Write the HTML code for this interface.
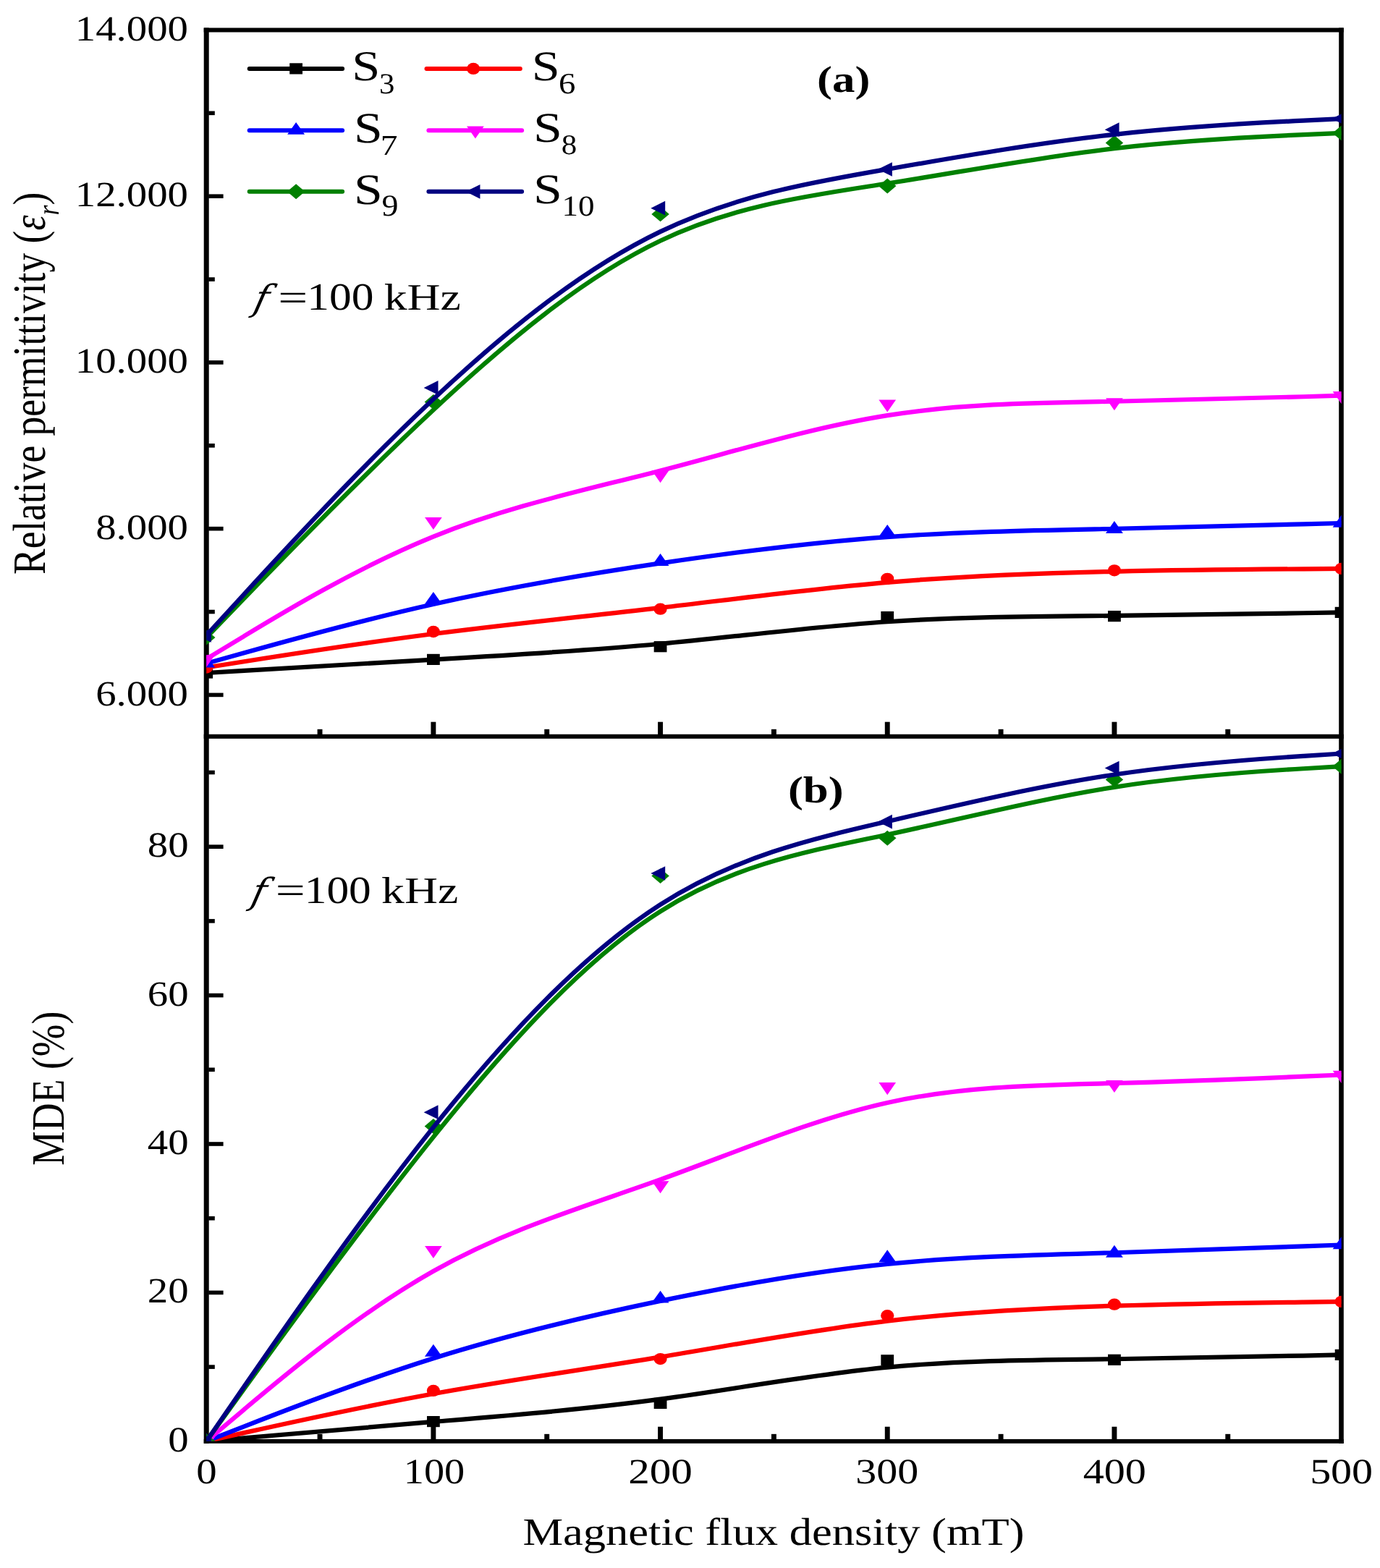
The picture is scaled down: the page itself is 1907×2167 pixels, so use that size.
<!DOCTYPE html><html><head><meta charset="utf-8"><title>Relative permittivity and MDE vs magnetic flux density</title><style>html,body{margin:0;padding:0;background:#fff;overflow:hidden;}svg{display:block;}text{font-kerning:none;text-rendering:geometricPrecision;}</style></head><body><svg width="1907" height="2167" viewBox="0 0 1907 2167" font-family="'Liberation Serif', 'Times New Roman', serif">
<rect width="1907" height="2167" fill="#fff"/>
<g fill="#000"><rect x="281.7" y="38.5" width="7.00" height="1956.30"/><rect x="1850.2" y="38.5" width="6.60" height="1956.30"/><rect x="281.7" y="38.5" width="1575.10" height="6.00"/><rect x="281.7" y="1014.8" width="1575.10" height="6.00"/><rect x="281.7" y="1988.9" width="1575.10" height="5.90"/><rect x="288.20" y="957.60" width="20.40" height="5.6"/><rect x="288.20" y="842.73" width="8.60" height="5.6"/><rect x="288.20" y="727.86" width="20.40" height="5.6"/><rect x="288.20" y="612.99" width="8.60" height="5.6"/><rect x="288.20" y="498.12" width="20.40" height="5.6"/><rect x="288.20" y="383.26" width="8.60" height="5.6"/><rect x="288.20" y="268.39" width="20.40" height="5.6"/><rect x="288.20" y="153.52" width="8.60" height="5.6"/><rect x="288.20" y="1886.30" width="8.60" height="5.6"/><rect x="288.20" y="1783.60" width="20.40" height="5.6"/><rect x="288.20" y="1680.90" width="8.60" height="5.6"/><rect x="288.20" y="1578.20" width="20.40" height="5.6"/><rect x="288.20" y="1475.50" width="8.60" height="5.6"/><rect x="288.20" y="1372.80" width="20.40" height="5.6"/><rect x="288.20" y="1270.10" width="8.60" height="5.6"/><rect x="288.20" y="1167.40" width="20.40" height="5.6"/><rect x="288.20" y="1064.70" width="8.60" height="5.6"/><rect x="438.59" y="1007.80" width="6.9" height="7.50"/><rect x="438.59" y="1981.85" width="6.9" height="7.50"/><rect x="595.43" y="997.70" width="6.9" height="17.60"/><rect x="595.43" y="1971.75" width="6.9" height="17.60"/><rect x="752.27" y="1007.80" width="6.9" height="7.50"/><rect x="752.27" y="1981.85" width="6.9" height="7.50"/><rect x="909.11" y="997.70" width="6.9" height="17.60"/><rect x="909.11" y="1971.75" width="6.9" height="17.60"/><rect x="1065.95" y="1007.80" width="6.9" height="7.50"/><rect x="1065.95" y="1981.85" width="6.9" height="7.50"/><rect x="1222.79" y="997.70" width="6.9" height="17.60"/><rect x="1222.79" y="1971.75" width="6.9" height="17.60"/><rect x="1379.63" y="1007.80" width="6.9" height="7.50"/><rect x="1379.63" y="1981.85" width="6.9" height="7.50"/><rect x="1536.47" y="997.70" width="6.9" height="17.60"/><rect x="1536.47" y="1971.75" width="6.9" height="17.60"/><rect x="1693.31" y="1007.80" width="6.9" height="7.50"/><rect x="1693.31" y="1981.85" width="6.9" height="7.50"/></g>
<defs><clipPath id="ca"><rect x="285.2" y="41.45" width="1568.4" height="976.35"/></clipPath><clipPath id="cb"><rect x="285.2" y="1017.8" width="1568.4" height="974.05"/></clipPath></defs>
<g clip-path="url(#ca)" stroke-linejoin="round"><path d="M285.20,930.00C285.20,930.00 285.20,930.00 337.48,926.90C389.76,923.80 494.32,917.60 598.88,911.55C703.44,905.50 808.00,899.60 912.56,889.78C1017.12,879.97 1121.68,866.23 1226.24,859.22C1330.80,852.20 1435.36,851.90 1539.92,850.88C1644.48,849.87 1749.04,848.13 1801.32,847.27C1853.60,846.40 1853.60,846.40 1853.60,846.40" fill="none" stroke="#000000" stroke-width="6.2"/><rect x="276.30" y="922.40" width="17.8" height="15.2" fill="#000000"/><rect x="589.98" y="903.80" width="17.8" height="15.2" fill="#000000"/><rect x="903.66" y="886.10" width="17.8" height="15.2" fill="#000000"/><rect x="1217.34" y="844.90" width="17.8" height="15.2" fill="#000000"/><rect x="1531.02" y="844.00" width="17.8" height="15.2" fill="#000000"/><rect x="1844.70" y="838.80" width="17.8" height="15.2" fill="#000000"/><path d="M285.20,922.50C285.20,922.50 285.20,922.50 337.48,914.25C389.76,906.00 494.32,889.50 598.88,876.03C703.44,862.57 808.00,852.13 912.56,839.93C1017.12,827.73 1121.68,813.77 1226.24,804.87C1330.80,795.97 1435.36,792.13 1539.92,789.82C1644.48,787.50 1749.04,786.70 1801.32,786.30C1853.60,785.90 1853.60,785.90 1853.60,785.90" fill="none" stroke="#FF0000" stroke-width="6.2"/><ellipse cx="285.20" cy="922.50" rx="9.1" ry="8.15" fill="#FF0000"/><ellipse cx="598.88" cy="873.00" rx="9.1" ry="8.15" fill="#FF0000"/><ellipse cx="912.56" cy="841.70" rx="9.1" ry="8.15" fill="#FF0000"/><ellipse cx="1226.24" cy="799.80" rx="9.1" ry="8.15" fill="#FF0000"/><ellipse cx="1539.92" cy="788.30" rx="9.1" ry="8.15" fill="#FF0000"/><ellipse cx="1853.60" cy="785.90" rx="9.1" ry="8.15" fill="#FF0000"/><path d="M285.20,916.80C285.20,916.80 285.20,916.80 337.48,902.20C389.76,887.60 494.32,858.40 598.88,834.98C703.44,811.57 808.00,793.93 912.56,778.43C1017.12,762.93 1121.68,749.57 1226.24,742.07C1330.80,734.57 1435.36,732.93 1539.92,730.73C1644.48,728.53 1749.04,725.77 1801.32,724.38C1853.60,723.00 1853.60,723.00 1853.60,723.00" fill="none" stroke="#0000FF" stroke-width="6.2"/><path d="M285.20,905.53L297.15,922.43L273.25,922.43Z" fill="#0000FF"/><path d="M598.88,817.93L610.83,834.83L586.93,834.83Z" fill="#0000FF"/><path d="M912.56,765.03L924.51,781.93L900.61,781.93Z" fill="#0000FF"/><path d="M1226.24,724.93L1238.19,741.83L1214.29,741.83Z" fill="#0000FF"/><path d="M1539.92,720.03L1551.87,736.93L1527.97,736.93Z" fill="#0000FF"/><path d="M1853.60,711.73L1865.55,728.63L1841.65,728.63Z" fill="#0000FF"/><path d="M285.20,910.70C285.20,910.70 285.20,910.70 337.48,879.03C389.76,847.37 494.32,784.03 598.88,741.57C703.44,699.10 808.00,677.50 912.56,650.42C1017.12,623.33 1121.68,590.77 1226.24,574.10C1330.80,557.43 1435.36,556.67 1539.92,554.75C1644.48,552.83 1749.04,549.77 1801.32,548.23C1853.60,546.70 1853.60,546.70 1853.60,546.70" fill="none" stroke="#FF00FF" stroke-width="6.2"/><path d="M285.20,922.10L297.05,905.00L273.35,905.00Z" fill="#FF00FF"/><path d="M598.88,732.10L610.73,715.00L587.03,715.00Z" fill="#FF00FF"/><path d="M912.56,667.30L924.41,650.20L900.71,650.20Z" fill="#FF00FF"/><path d="M1226.24,569.60L1238.09,552.50L1214.39,552.50Z" fill="#FF00FF"/><path d="M1539.92,567.30L1551.77,550.20L1528.07,550.20Z" fill="#FF00FF"/><path d="M1853.60,558.10L1865.45,541.00L1841.75,541.00Z" fill="#FF00FF"/><path d="M285.20,881.10C285.20,881.10 285.20,881.10 337.48,826.83C389.76,772.57 494.32,664.03 598.88,566.50C703.44,468.97 808.00,382.43 912.56,332.68C1017.12,282.93 1121.68,269.97 1226.24,253.55C1330.80,237.13 1435.36,217.27 1539.92,205.08C1644.48,192.90 1749.04,188.40 1801.32,186.15C1853.60,183.90 1853.60,183.90 1853.60,183.90" fill="none" stroke="#008000" stroke-width="6.2"/><path d="M285.20,870.65L297.45,881.10L285.20,891.55L272.95,881.10Z" fill="#008000"/><path d="M598.88,545.05L611.13,555.50L598.88,565.95L586.63,555.50Z" fill="#008000"/><path d="M912.56,285.45L924.81,295.90L912.56,306.35L900.31,295.90Z" fill="#008000"/><path d="M1226.24,246.55L1238.49,257.00L1226.24,267.45L1213.99,257.00Z" fill="#008000"/><path d="M1539.92,186.95L1552.17,197.40L1539.92,207.85L1527.67,197.40Z" fill="#008000"/><path d="M1853.60,173.45L1865.85,183.90L1853.60,194.35L1841.35,183.90Z" fill="#008000"/><path d="M285.20,878.00C285.20,878.00 285.20,878.00 337.48,820.98C389.76,763.97 494.32,649.93 598.88,551.55C703.44,453.17 808.00,370.43 912.56,320.12C1017.12,269.80 1121.68,251.90 1226.24,233.82C1330.80,215.73 1435.36,197.47 1539.92,185.82C1644.48,174.17 1749.04,169.13 1801.32,166.62C1853.60,164.10 1853.60,164.10 1853.60,164.10" fill="none" stroke="#000080" stroke-width="6.2"/><path d="M271.93,878.00L291.83,868.15L291.83,887.85Z" fill="#000080"/><path d="M585.61,535.90L605.51,526.05L605.51,545.75Z" fill="#000080"/><path d="M899.29,287.70L919.19,277.85L919.19,297.55Z" fill="#000080"/><path d="M1212.97,234.00L1232.87,224.15L1232.87,243.85Z" fill="#000080"/><path d="M1526.65,179.20L1546.55,169.35L1546.55,189.05Z" fill="#000080"/><path d="M1840.33,164.10L1860.23,154.25L1860.23,173.95Z" fill="#000080"/></g>
<g clip-path="url(#cb)" stroke-linejoin="round"><path d="M285.20,1991.80C285.20,1991.80 285.20,1991.80 337.48,1987.27C389.76,1982.73 494.32,1973.67 598.88,1964.93C703.44,1956.20 808.00,1947.80 912.56,1933.67C1017.12,1919.53 1121.68,1899.67 1226.24,1889.65C1330.80,1879.63 1435.36,1879.47 1539.92,1878.23C1644.48,1877.00 1749.04,1874.70 1801.32,1873.55C1853.60,1872.40 1853.60,1872.40 1853.60,1872.40" fill="none" stroke="#000000" stroke-width="6.2"/><rect x="276.30" y="1984.20" width="17.8" height="15.2" fill="#000000"/><rect x="589.98" y="1957.00" width="17.8" height="15.2" fill="#000000"/><rect x="903.66" y="1931.80" width="17.8" height="15.2" fill="#000000"/><rect x="1217.34" y="1872.20" width="17.8" height="15.2" fill="#000000"/><rect x="1531.02" y="1871.70" width="17.8" height="15.2" fill="#000000"/><rect x="1844.70" y="1864.80" width="17.8" height="15.2" fill="#000000"/><path d="M285.20,1991.80C285.20,1991.80 285.20,1991.80 337.48,1980.15C389.76,1968.50 494.32,1945.20 598.88,1926.25C703.44,1907.30 808.00,1892.70 912.56,1875.42C1017.12,1858.13 1121.68,1838.17 1226.24,1825.60C1330.80,1813.03 1435.36,1807.87 1539.92,1804.65C1644.48,1801.43 1749.04,1800.17 1801.32,1799.53C1853.60,1798.90 1853.60,1798.90 1853.60,1798.90" fill="none" stroke="#FF0000" stroke-width="6.2"/><ellipse cx="285.20" cy="1991.80" rx="9.1" ry="8.15" fill="#FF0000"/><ellipse cx="598.88" cy="1921.90" rx="9.1" ry="8.15" fill="#FF0000"/><ellipse cx="912.56" cy="1878.10" rx="9.1" ry="8.15" fill="#FF0000"/><ellipse cx="1226.24" cy="1818.20" rx="9.1" ry="8.15" fill="#FF0000"/><ellipse cx="1539.92" cy="1802.70" rx="9.1" ry="8.15" fill="#FF0000"/><ellipse cx="1853.60" cy="1798.90" rx="9.1" ry="8.15" fill="#FF0000"/><path d="M285.20,1991.80C285.20,1991.80 285.20,1991.80 337.48,1971.35C389.76,1950.90 494.32,1910.00 598.88,1877.18C703.44,1844.37 808.00,1819.63 912.56,1797.88C1017.12,1776.13 1121.68,1757.37 1226.24,1746.90C1330.80,1736.43 1435.36,1734.27 1539.92,1731.25C1644.48,1728.23 1749.04,1724.37 1801.32,1722.43C1853.60,1720.50 1853.60,1720.50 1853.60,1720.50" fill="none" stroke="#0000FF" stroke-width="6.2"/><path d="M285.20,1980.53L297.15,1997.43L273.25,1997.43Z" fill="#0000FF"/><path d="M598.88,1857.83L610.83,1874.73L586.93,1874.73Z" fill="#0000FF"/><path d="M912.56,1783.63L924.51,1800.53L900.61,1800.53Z" fill="#0000FF"/><path d="M1226.24,1727.33L1238.19,1744.23L1214.29,1744.23Z" fill="#0000FF"/><path d="M1539.92,1720.83L1551.87,1737.73L1527.97,1737.73Z" fill="#0000FF"/><path d="M1853.60,1709.23L1865.55,1726.13L1841.65,1726.13Z" fill="#0000FF"/><path d="M285.20,1991.80C285.20,1991.80 285.20,1991.80 337.48,1947.78C389.76,1903.77 494.32,1815.73 598.88,1756.75C703.44,1697.77 808.00,1667.83 912.56,1630.18C1017.12,1592.53 1121.68,1547.17 1226.24,1523.97C1330.80,1500.77 1435.36,1499.73 1539.92,1497.02C1644.48,1494.30 1749.04,1489.90 1801.32,1487.70C1853.60,1485.50 1853.60,1485.50 1853.60,1485.50" fill="none" stroke="#FF00FF" stroke-width="6.2"/><path d="M285.20,2003.20L297.05,1986.10L273.35,1986.10Z" fill="#FF00FF"/><path d="M598.88,1739.10L610.73,1722.00L587.03,1722.00Z" fill="#FF00FF"/><path d="M912.56,1649.30L924.41,1632.20L900.71,1632.20Z" fill="#FF00FF"/><path d="M1226.24,1513.20L1238.09,1496.10L1214.39,1496.10Z" fill="#FF00FF"/><path d="M1539.92,1510.10L1551.77,1493.00L1528.07,1493.00Z" fill="#FF00FF"/><path d="M1853.60,1496.90L1865.45,1479.80L1841.75,1479.80Z" fill="#FF00FF"/><path d="M285.20,1991.80C285.20,1991.80 285.20,1991.80 337.48,1919.25C389.76,1846.70 494.32,1701.60 598.88,1571.40C703.44,1441.20 808.00,1325.90 912.56,1259.52C1017.12,1193.13 1121.68,1175.67 1226.24,1153.47C1330.80,1131.27 1435.36,1104.33 1539.92,1087.83C1644.48,1071.33 1749.04,1065.27 1801.32,1062.23C1853.60,1059.20 1853.60,1059.20 1853.60,1059.20" fill="none" stroke="#008000" stroke-width="6.2"/><path d="M285.20,1981.35L297.45,1991.80L285.20,2002.25L272.95,1991.80Z" fill="#008000"/><path d="M598.88,1546.05L611.13,1556.50L598.88,1566.95L586.63,1556.50Z" fill="#008000"/><path d="M912.56,1200.15L924.81,1210.60L912.56,1221.05L900.31,1210.60Z" fill="#008000"/><path d="M1226.24,1147.75L1238.49,1158.20L1226.24,1168.65L1213.99,1158.20Z" fill="#008000"/><path d="M1539.92,1066.95L1552.17,1077.40L1539.92,1087.85L1527.67,1077.40Z" fill="#008000"/><path d="M1853.60,1048.75L1865.85,1059.20L1853.60,1069.65L1841.35,1059.20Z" fill="#008000"/><path d="M285.20,1991.80C285.20,1991.80 285.20,1991.80 337.48,1916.03C389.76,1840.27 494.32,1688.73 598.88,1557.93C703.44,1427.13 808.00,1317.07 912.56,1250.15C1017.12,1183.23 1121.68,1159.47 1226.24,1135.22C1330.80,1110.97 1435.36,1086.23 1539.92,1070.53C1644.48,1054.83 1749.04,1048.17 1801.32,1044.83C1853.60,1041.50 1853.60,1041.50 1853.60,1041.50" fill="none" stroke="#000080" stroke-width="6.2"/><path d="M271.93,1991.80L291.83,1981.95L291.83,2001.65Z" fill="#000080"/><path d="M585.61,1537.20L605.51,1527.35L605.51,1547.05Z" fill="#000080"/><path d="M899.29,1207.00L919.19,1197.15L919.19,1216.85Z" fill="#000080"/><path d="M1212.97,1135.70L1232.87,1125.85L1232.87,1145.55Z" fill="#000080"/><path d="M1526.65,1061.50L1546.55,1051.65L1546.55,1071.35Z" fill="#000080"/><path d="M1840.33,1041.50L1860.23,1031.65L1860.23,1051.35Z" fill="#000080"/></g>
<line x1="344.70" y1="94.9" x2="473.10" y2="94.9" stroke="#000000" stroke-width="6" stroke-linecap="round"/><rect x="400.20" y="87.30" width="17.8" height="15.2" fill="#000000"/><line x1="589.50" y1="94.9" x2="718.80" y2="94.9" stroke="#FF0000" stroke-width="6" stroke-linecap="round"/><ellipse cx="654.10" cy="94.90" rx="9.1" ry="8.15" fill="#FF0000"/><line x1="344.70" y1="180.2" x2="473.10" y2="180.2" stroke="#0000FF" stroke-width="6" stroke-linecap="round"/><path d="M409.10,168.93L421.05,185.83L397.15,185.83Z" fill="#0000FF"/><line x1="592.40" y1="180.2" x2="721.10" y2="180.2" stroke="#FF00FF" stroke-width="6" stroke-linecap="round"/><path d="M656.90,191.60L668.75,174.50L645.05,174.50Z" fill="#FF00FF"/><line x1="344.70" y1="264.8" x2="473.10" y2="264.8" stroke="#008000" stroke-width="6" stroke-linecap="round"/><path d="M409.10,254.35L421.35,264.80L409.10,275.25L396.85,264.80Z" fill="#008000"/><line x1="592.40" y1="264.8" x2="721.10" y2="264.8" stroke="#000080" stroke-width="6" stroke-linecap="round"/><path d="M643.53,264.80L663.43,254.95L663.43,274.65Z" fill="#000080"/>
<g fill="#000"><text transform="translate(486.29,111.11) scale(1.1892,1.0000)" font-size="59.08">S</text><text transform="translate(523.94,128.60) scale(1.0667,1.0000)" font-size="40.18">3</text><text transform="translate(488.91,196.50) scale(1.1911,1.0000)" font-size="59.97">S</text><text transform="translate(525.77,213.60) scale(1.1989,1.0000)" font-size="39.54">7</text><text transform="translate(488.91,281.50) scale(1.1911,1.0000)" font-size="59.97">S</text><text transform="translate(527.43,298.48) scale(1.0938,1.0000)" font-size="41.96">9</text><text transform="translate(734.71,111.02) scale(1.1973,1.0000)" font-size="58.48">S</text><text transform="translate(771.99,128.79) scale(1.1446,1.0000)" font-size="40.92">6</text><text transform="translate(736.90,196.12) scale(1.2254,1.0000)" font-size="58.48">S</text><text transform="translate(775.87,212.81) scale(1.0975,1.0000)" font-size="39.11">8</text><text transform="translate(736.90,280.62) scale(1.2254,1.0000)" font-size="58.48">S</text><text transform="translate(776.54,297.90) scale(1.1241,1.0000)" font-size="40.00">10</text><text transform="translate(1128.93,126.81) scale(1.2207,1.0000)" font-size="51.60" font-weight="bold">(a)</text><text transform="translate(1088.93,1109.14) scale(1.2108,1.0000)" font-size="51.93" font-weight="bold">(b)</text><text transform="translate(348.55,429.42) skewX(-13) scale(1.05,1)" font-size="49.64" font-style="italic" font-family="'DejaVu Serif', 'Liberation Serif', serif">f</text><text transform="translate(384.27,428.70) scale(1.3638,1.0000)" font-size="53.30">=</text><text transform="translate(424.29,428.47) scale(1.1517,1.0000)" font-size="53.33">100</text><text transform="translate(530.69,428.40) scale(1.2311,1.0000)" font-size="51.73">kHz</text><text transform="translate(344.95,1249.12) skewX(-13) scale(1.05,1)" font-size="49.64" font-style="italic" font-family="'DejaVu Serif', 'Liberation Serif', serif">f</text><text transform="translate(380.67,1248.40) scale(1.3638,1.0000)" font-size="53.30">=</text><text transform="translate(420.69,1248.17) scale(1.1517,1.0000)" font-size="53.33">100</text><text transform="translate(527.09,1248.10) scale(1.2311,1.0000)" font-size="51.73">kHz</text><text transform="translate(103.79,55.66) scale(1.1550,1.0000)" font-size="49.20">14.000</text><text transform="translate(103.79,285.40) scale(1.1550,1.0000)" font-size="49.20">12.000</text><text transform="translate(103.79,515.14) scale(1.1550,1.0000)" font-size="49.20">10.000</text><text transform="translate(132.20,744.87) scale(1.1550,1.0000)" font-size="49.20">8.000</text><text transform="translate(132.20,974.61) scale(1.1550,1.0000)" font-size="49.20">6.000</text><text transform="translate(232.15,2005.81) scale(1.1550,1.0000)" font-size="49.20">0</text><text transform="translate(203.73,1800.41) scale(1.1550,1.0000)" font-size="49.20">20</text><text transform="translate(203.73,1595.01) scale(1.1550,1.0000)" font-size="49.20">40</text><text transform="translate(203.73,1389.61) scale(1.1550,1.0000)" font-size="49.20">60</text><text transform="translate(203.73,1184.21) scale(1.1550,1.0000)" font-size="49.20">80</text><text transform="translate(271.29,2049.81) scale(1.1550,1.0000)" font-size="49.20">0</text><text transform="translate(557.74,2049.81) scale(1.1450,1.0000)" font-size="49.20">100</text><text transform="translate(868.20,2049.81) scale(1.2026,1.0000)" font-size="49.20">200</text><text transform="translate(1182.22,2049.81) scale(1.1787,1.0000)" font-size="49.20">300</text><text transform="translate(1496.64,2049.81) scale(1.1812,1.0000)" font-size="49.20">400</text><text transform="translate(1810.14,2049.81) scale(1.1784,1.0000)" font-size="49.20">500</text><text transform="translate(722.39,2134.80) scale(1.1677,1.0000)" font-size="53.59">Magnetic flux density (mT)</text></g>
<g fill="#000"><text transform="translate(61.9,794.05) scale(1.196,1) rotate(-90)" font-size="53.5">Relative permittivity (<tspan font-style="italic">ε</tspan><tspan font-style="italic" font-size="35.84" dy="16">r</tspan><tspan dy="-16">)</tspan></text><text transform="translate(88.2,1610.66) scale(1.195,1) rotate(-90)" font-size="53.64">MDE (%)</text></g>
</svg></body></html>
